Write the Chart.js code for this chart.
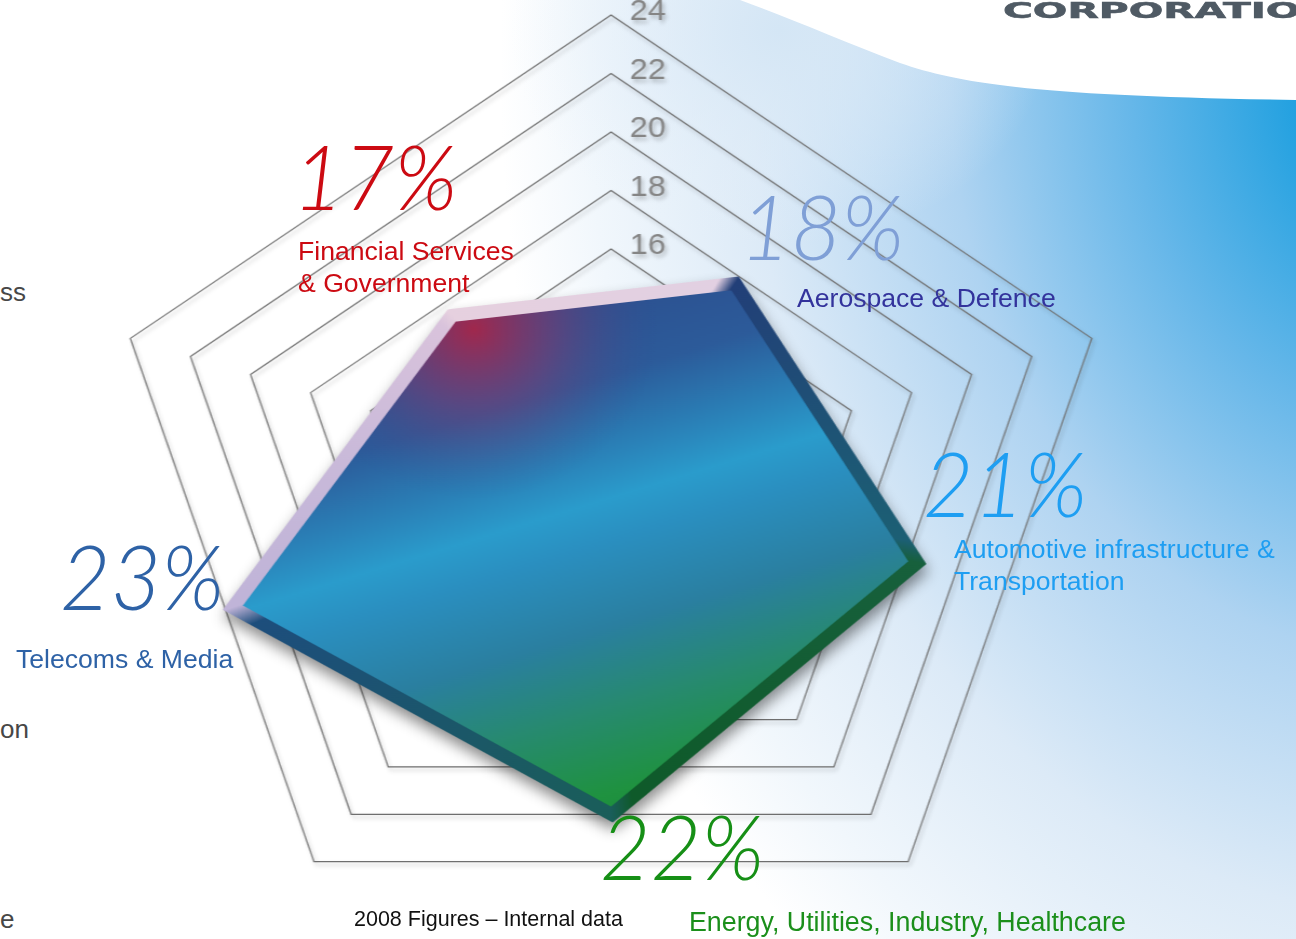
<!DOCTYPE html>
<html lang="en">
<head>
<meta charset="utf-8">
<title>2008 sector split</title>
<script src="https://cdn.jsdelivr.net/npm/chart.js@4.4.1/dist/chart.umd.min.js"></script>
<style>
  html, body { margin: 0; padding: 0; }
  body {
    width: 1296px; height: 939px; overflow: hidden; position: relative;
    background: #fff; font-family: "Liberation Sans", Arial, sans-serif;
  }
  #sky { position: absolute; left: 0; top: 0; }
  #radar {
    position: absolute; left: 143px; top: 0; width: 936px; height: 939px;
    transform: scaleX(1.08); transform-origin: 468px 50%;
  }
  #radar canvas { position: absolute; }
  #grid { left: 0; top: -15px; filter: drop-shadow(2px 3px 2px rgba(0,0,0,0.25)); }
  #shape { left: -15px; top: 13px; filter: drop-shadow(1px 8px 7px rgba(0,0,0,0.45)); }
  .txt { position: absolute; white-space: nowrap; }
  .share { font-family: Lato, "Open Sans", sans-serif; font-style: italic; font-weight: 300;
           font-size: 90px; line-height: 90px; transform: scaleX(0.97); transform-origin: 0 0; }
  .name { font-size: 26.6px; line-height: 32px; }
  .edge { font-size: 26px; line-height: 32px; color: #474747; }
  #note { font-size: 21.5px; line-height: 26px; color: #111; left: 354px; top: 906px; }
  #brand { left: 1003px; top: 0; font: bold 22px/22px "DejaVu Sans", sans-serif; color: #4f5a64;
           -webkit-text-stroke: 0.6px #4f5a64; transform: scaleX(1.85); transform-origin: 0 0; }
</style>
</head>
<body>
<svg id="sky" width="1296" height="939">
  <defs>
    <radialGradient id="wash" gradientUnits="userSpaceOnUse" cx="1400" cy="70" r="900"
        gradientTransform="translate(1400 70) scale(1 1.3) translate(-1400 -70)">
      <stop offset="0" stop-color="#129ade"/>
      <stop offset="0.12" stop-color="#23a1e0"/>
      <stop offset="0.3" stop-color="#66b7e9"/>
      <stop offset="0.5" stop-color="#aed3f1"/>
      <stop offset="0.72" stop-color="#dceaf7"/>
      <stop offset="0.9" stop-color="#f1f7fc"/>
      <stop offset="1" stop-color="#ffffff"/>
    </radialGradient>
    <radialGradient id="haze" gradientUnits="userSpaceOnUse" cx="780" cy="30" r="270"
        gradientTransform="translate(780 30) scale(1 0.8) translate(-780 -30)">
      <stop offset="0" stop-color="#d4e6f5" stop-opacity="1"/>
      <stop offset="1" stop-color="#e8f1fa" stop-opacity="0"/>
    </radialGradient>
  </defs>
  <rect width="1296" height="939" fill="url(#wash)"/>
  <rect width="1296" height="400" fill="url(#haze)"/>
  <path d="M740,0 C790,18 840,40 900,63 C960,84 1040,96 1296,100 L1296,0 Z" fill="#ffffff"/>
</svg>

<div id="radar">
  <canvas id="grid" width="936" height="996"></canvas>
  <canvas id="shape" width="936" height="936"></canvas>
</div>

<div class="txt edge" style="left:0;top:276px">ss</div>
<div class="txt edge" style="left:0;top:713px">on</div>
<div class="txt edge" style="left:0;top:903px">e</div>
<div id="brand" class="txt">CORPORATIO</div>
<div id="note" class="txt">2008 Figures – Internal data</div>

<script>
// sector shares, 2008
const sectors = [
  ["Financial Services", "& Government"],
  ["Aerospace & Defence"],
  ["Automotive infrastructure &", "Transportation"],
  ["Energy, Utilities, Industry, Healthcare"],
  ["Telecoms & Media"]
];
const shares = [17, 18, 21, 22, 23];
const gridTicks = [16, 18, 20, 22, 24];

const nameColors = ["#cc0a12", "#33339c", "#1e9ef2", "#1b8f1b", "#2e62a6"];
const shareColors = ["#cc0a12", "#7f9fd6", "#1e9ef2", "#168f16", "#2e62a6"];

// where the big % and the sector name sit (left, cap top)
const labelAt = [
  { share: [293, 145], name: [298, 241] },
  { share: [740, 195], name: [797, 288] },
  { share: [923, 452], name: [954, 539] },
  { share: [600, 815], name: [689, 912] },
  { share: [60, 545], name: [16, 649] }
];

sectors.forEach((lines, i) => {
  const pct = document.createElement("div");
  pct.className = "txt share";
  pct.textContent = shares[i] + "%";
  pct.style.color = shareColors[i];
  pct.style.left = labelAt[i].share[0] + "px";
  pct.style.top = (labelAt[i].share[1] - 15) + "px";
  document.body.appendChild(pct);

  const name = document.createElement("div");
  name.className = "txt name";
  name.innerHTML = lines.join("<br>");
  name.style.color = nameColors[i];
  name.style.left = labelAt[i].name[0] + "px";
  name.style.top = (labelAt[i].name[1] - 6) + "px";
  if (lines[0].length > 30) name.style.fontSize = "26.8px";
  document.body.appendChild(name);
});

const labels = sectors.map(l => l.join(" "));

// grid numbers to the right of the top spoke
const tickText = {
  id: "tickText",
  afterDraw(chart) {
    const s = chart.scales.r;
    const ctx = chart.ctx;
    ctx.save();
    ctx.font = '30px "Liberation Sans", Arial, sans-serif';
    ctx.fillStyle = "#858585";
    ctx.textAlign = "center";
    ctx.textBaseline = "middle";
    gridTicks.forEach(v => {
      const d = s.getDistanceFromCenterForValue(v);
      ctx.fillText(String(v), s.xCenter + 34, s.yCenter - d - 3);
    });
    ctx.restore();
  }
};

new Chart(document.getElementById("grid"), {
  type: "radar",
  data: { labels: labels, datasets: [] },
  options: {
    responsive: false,
    animation: false,
    layout: { padding: { top: 30, bottom: 30 } },
    plugins: { legend: { display: false }, tooltip: { enabled: false } },
    scales: {
      r: {
        min: 8,
        max: 24,
        ticks: { display: false, stepSize: 2 },
        pointLabels: { display: false },
        angleLines: { display: false },
        grid: {
          color: c => (c.tick && c.tick.value >= gridTicks[0]) ? "#6e6e6e" : "rgba(0,0,0,0)",
          lineWidth: 1.2
        }
      }
    }
  },
  plugins: [tickText]
});

// body colour: dark blue on top, cyan band, green at the bottom
function bodyFill(c) {
  const s = c.chart.scales.r;
  if (!s || !c.chart.chartArea) return "#2a8fc0";
  const ox = s.xCenter - 6, oy = s.yCenter + 24;
  const g = c.chart.ctx.createLinearGradient(
    ox - 0.313 * 300, oy - 0.95 * 300, ox + 0.313 * 330, oy + 0.95 * 330);
  g.addColorStop(0, "#2d4786");
  g.addColorStop(0.08, "#2d4a8a");
  g.addColorStop(0.29, "#2c5b9a");
  g.addColorStop(0.41, "#2a84ba");
  g.addColorStop(0.476, "#2a9ccc");
  g.addColorStop(0.54, "#2a8fc0");
  g.addColorStop(0.67, "#2a7fa0");
  g.addColorStop(0.79, "#278a70");
  g.addColorStop(0.92, "#1f9240");
  g.addColorStop(1, "#1c8a38");
  return g;
}

// red glow in the upper-left corner
function glowFill(c) {
  const s = c.chart.scales.r;
  if (!s || !c.chart.chartArea) return "rgba(0,0,0,0)";
  const x = s.xCenter - 112, y = s.yCenter - 152;
  const g = c.chart.ctx.createRadialGradient(x, y, 0, x, y, 170);
  g.addColorStop(0, "rgba(190,30,60,0.8)");
  g.addColorStop(0.45, "rgba(160,45,95,0.38)");
  g.addColorStop(1, "rgba(60,70,140,0)");
  return g;
}

// bevelled rim: light on the upper-left faces, dark on the others
function rimColor(c) {
  const s = c.chart.scales.r;
  if (!s || !c.chart.chartArea) return "#1d4e7c";
  const start = (s.options.startAngle + 72 - 90) * Math.PI / 180;
  const g = c.chart.ctx.createConicGradient(start, s.xCenter, s.yCenter);
  g.addColorStop(0, "#223f78");
  g.addColorStop(0.19, "#1c5f74");
  g.addColorStop(0.2, "#17603c");
  g.addColorStop(0.39, "#0f5a2a");
  g.addColorStop(0.4, "#1a5e5a");
  g.addColorStop(0.59, "#1d4e7c");
  g.addColorStop(0.6, "#c0b4d8");
  g.addColorStop(0.79, "#d9c3dc");
  g.addColorStop(0.8, "#e6d0df");
  g.addColorStop(0.99, "#e2d0e2");
  g.addColorStop(1, "#223f78");
  return g;
}

new Chart(document.getElementById("shape"), {
  type: "radar",
  data: {
    labels: labels,
    datasets: [
      { data: shares, fill: false, borderWidth: 13, borderColor: rimColor,
        borderJoinStyle: "miter", pointRadius: 0 },
      { data: shares, fill: true, borderWidth: 0, backgroundColor: glowFill, pointRadius: 0 },
      { data: shares, fill: true, borderWidth: 0, backgroundColor: bodyFill, pointRadius: 0 }
    ]
  },
  options: {
    responsive: false,
    animation: false,
    plugins: { legend: { display: false }, tooltip: { enabled: false } },
    scales: {
      r: {
        min: 8.3,
        max: 27.5,
        startAngle: -38.7,
        ticks: { display: false },
        pointLabels: { display: false },
        angleLines: { display: false },
        grid: { display: false }
      }
    }
  }
});
</script>
</body>
</html>
